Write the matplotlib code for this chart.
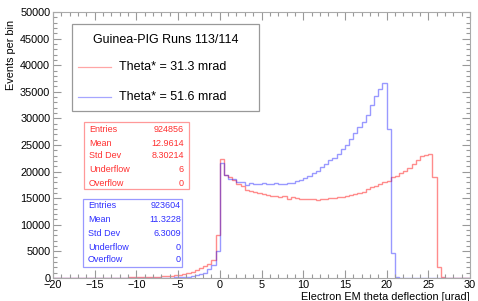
import numpy as np
import matplotlib
matplotlib.use("Agg")
import matplotlib.pyplot as plt
from matplotlib.patches import Rectangle
from matplotlib.lines import Line2D

plt.rcParams['font.family'] = ['Liberation Sans', 'DejaVu Sans']

# ---------------- data ----------------
bin_lo, bin_hi, bin_w = -20.0, 30.0, 0.5

# red histogram (Theta* = 31.3 mrad), bins from -20 in steps of 0.5
red_neg = [0, 0, 0, 0, 0, 5, 5, 10, 10, 15,
           20, 25, 30, 40, 45, 55, 65, 80, 95, 110,
           130, 150, 175, 205, 240, 280, 330, 390, 460, 510,
           620, 750, 920, 1150, 1450, 1800, 2200, 2700, 3400, 8100]
red_pos = [22370, 19400, 18900, 18400, 17700, 17200, 16550, 16350, 16100, 15900,
           15750, 15600, 15400, 15400, 15300, 15400, 14850, 15300, 14950, 14900,
           14800, 14850, 14800, 14750, 14900, 14900, 15000, 15100, 15200, 15300,
           15500, 15600, 15800, 16000, 16250, 16650, 17050, 17300, 17600, 18000,
           18300, 18900, 19100, 19650, 20100, 20600, 21500, 22100, 22900, 23100,
           23300, 18900, 2000, 250, 0, 0, 0, 0, 0, 0]
# blue histogram (Theta* = 51.6 mrad)
blue_neg = [0, 0, 0, 0, 0, 0, 0, 0, 0, 0,
            0, 0, 0, 0, 0, 0, 5, 5, 8, 10,
            10, 12, 15, 20, 25, 30, 40, 50, 70, 95,
            130, 180, 250, 340, 480, 700, 1000, 1600, 2400, 5000]
blue_pos = [21600, 19400, 18550, 18550, 18100, 18100, 17450, 17900, 17600, 17600,
            17800, 17600, 17600, 17800, 17600, 17600, 17900, 17900, 18200, 18500,
            18800, 19100, 19700, 20200, 20800, 21400, 22100, 22600, 23400, 24200,
            25000, 26200, 27200, 28300, 29300, 30600, 32600, 34200, 35600, 36600,
            28000, 4750, 150, 0, 0, 0, 0, 0, 0, 0,
            0, 0, 0, 0, 0, 0, 0, 0, 0, 0]

legend_title = "Guinea-PIG Runs 113/114"
legend_labels = ["Theta* = 31.3 mrad", "Theta* = 51.6 mrad"]
stat_names = ["Entries", "Mean", "Std Dev", "Underflow", "Overflow"]
red_stats = ["924856", "12.9614", "8.30214", "6", "0"]
blue_stats = ["923604", "11.3228", "6.3009", "0", "0"]

x_label = "Electron EM theta deflection [urad]"
y_label = "Events per bin"

# ---------------- figure ----------------
W, H = 478, 301
fig = plt.figure(figsize=(W / 100, H / 100), dpi=100)


def fx(x):
    return x / W


def fy(y):
    return 1 - y / H


ax = fig.add_axes([fx(53), fy(278), fx(470) - fx(53), fy(12) - fy(278)])

edges = np.arange(bin_lo, bin_hi + bin_w / 2, bin_w)
red_vals = np.array(red_neg + red_pos, dtype=float)
blue_vals = np.array(blue_neg + blue_pos, dtype=float)

ax.stairs(red_vals, edges, color='#ff0000', alpha=0.45, lw=1.0)
ax.stairs(blue_vals, edges, color='#0000ff', alpha=0.4, lw=1.0)

ax.set_xlim(-20, 30)
ax.set_ylim(0, 50000)
ax.set_xticks(np.arange(-20, 31, 5))
ax.set_xticks(np.arange(-20, 31, 1), minor=True)
ax.set_yticks(np.arange(0, 50001, 5000))
ax.set_yticks(np.arange(0, 50001, 1000), minor=True)
ax.tick_params(which='both', direction='in', top=True, right=True,
               color='#999999', labelsize=7.8, labelcolor='black')
ax.tick_params(which='major', length=5.5, width=0.8)
ax.tick_params(which='minor', length=2.8, width=0.8)
ax.tick_params(axis='y', pad=2)
ax.tick_params(axis='x', pad=1.5)
for s in ax.spines.values():
    s.set_color('#aaaaaa')
    s.set_linewidth(0.8)

fig.text(fx(11), fy(20), y_label, rotation=90, ha='center', va='top', fontsize=7.8)
fig.text(fx(470), fy(296.5), x_label, ha='right', va='center', fontsize=7.8)

# legend box
fig.patches.append(Rectangle((fx(72), fy(111)), fx(259) - fx(72), fy(24) - fy(111),
                             transform=fig.transFigure, facecolor='white',
                             edgecolor='#999999', lw=0.9, zorder=5))
fig.text(fx(166), fy(40), legend_title, ha='center', va='center', fontsize=9, zorder=6)
for yy, lab, col in zip([67, 97], legend_labels, ['#ff0000', '#0000ff']):
    fig.lines.append(Line2D([fx(78), fx(111)], [fy(yy), fy(yy)], transform=fig.transFigure,
                            color=col, alpha=0.35, lw=0.9, zorder=6))
    fig.text(fx(119), fy(yy), lab, ha='left', va='center', fontsize=9, zorder=6)

# stats boxes
def stats_box(x0, x1, y0, y1, rows_y, vals, col, edge, lab_x, val_x):
    fig.patches.append(Rectangle((fx(x0), fy(y1)), fx(x1) - fx(x0), fy(y0) - fy(y1),
                                 transform=fig.transFigure, facecolor='white',
                                 edgecolor=edge, lw=0.9, zorder=5))
    for yy, name, v in zip(rows_y, stat_names, vals):
        fig.text(fx(lab_x), fy(yy), name, ha='left', va='center', fontsize=6.5,
                 color=col, zorder=6)
        fig.text(fx(val_x), fy(yy), v, ha='right', va='center', fontsize=6.5,
                 color=col, zorder=6)


stats_box(84, 189, 122, 189, [129, 143, 156, 169, 183], red_stats,
          '#ff3030', '#ff9999', 89, 184)
stats_box(83, 182, 199, 267, [206, 220, 233, 247, 260], blue_stats,
          '#3030ff', '#9999ff', 88, 181)

fig.savefig("out.png", dpi=100)
